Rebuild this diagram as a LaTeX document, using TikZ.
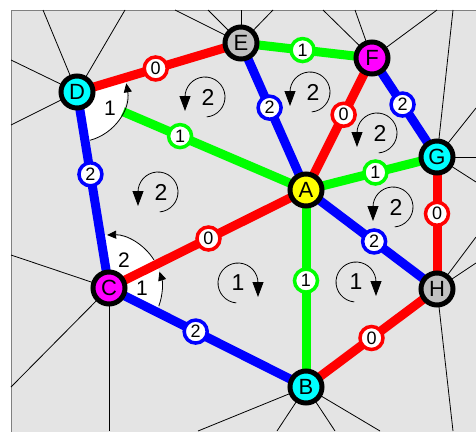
\documentclass[tikz,border=0pt]{standalone}
\usepackage{fontspec}
\setmainfont{Liberation Sans}
\usetikzlibrary{arrows.meta, backgrounds}
\definecolor{boxgray}{RGB}{228,228,228}
\definecolor{vgray}{RGB}{192,192,192}
\definecolor{vcyan}{RGB}{0,255,255}
\definecolor{vmagenta}{RGB}{255,0,255}
\definecolor{vyellow}{RGB}{255,255,0}
\definecolor{ered}{RGB}{255,0,0}
\definecolor{egreen}{RGB}{0,255,0}
\definecolor{eblue}{RGB}{0,0,255}

\tikzset{
  vtx/.style={circle, draw=black, line width=5pt, minimum size=32pt, inner sep=0pt,
    font=\fontsize{22}{22}\selectfont},
  elab/.style={circle, fill=white, draw=#1, line width=3.5pt, minimum size=23pt, inner sep=0pt,
    font=\fontsize{18}{18}\selectfont},
  link/.style={line width=9pt, draw=#1},
  cell/.style={line width=0.8pt, black},
  facenum/.style={inner sep=0pt, font=\fontsize{23}{23}\selectfont},
  anglab/.style={inner sep=0pt, font=\fontsize{21}{21}\selectfont},
  facearr/.style={line width=0.8pt, -{Triangle[length=15pt,width=11pt]}},
  angarr/.style={line width=0.8pt, -{Triangle[length=9pt,width=8pt]}},
}

\begin{document}
\begin{tikzpicture}[x=1pt, y=-1pt]
  \useasboundingbox (0,0) rectangle (476,431);
  % vertices
  \node[vtx, fill=vyellow]  (A) at (306,190) {A};
  \node[vtx, fill=vcyan]    (B) at (306,387) {B};
  \node[vtx, fill=vmagenta] (C) at (109,288) {C};
  \node[vtx, fill=vcyan]    (D) at (77,92)   {D};
  \node[vtx, fill=vgray]    (E) at (241,43)  {E};
  \node[vtx, fill=vmagenta] (F) at (372,58)  {F};
  \node[vtx, fill=vcyan]    (G) at (437,157) {G};
  \node[vtx, fill=vgray]    (H) at (437,289) {H};
  % face rotations
  \foreach \nm/\cx/\cy in {fa/205/97, fb/158/192, fc/310/92, fd/377/133, fe/393/207}{
    \node[facenum] (\nm) at (\cx+3,\cy) {2};
    \draw[facearr] (\cx,\cy) ++(85:20) arc[start angle=85, end angle=-180, radius=20] -- ++(0,14);
  }
  \foreach \nm/\cx/\cy in {fg/238/283, fh/356/282}{
    \node[facenum] (\nm) at (\cx,\cy) {1};
    \draw[facearr] (\cx,\cy) ++(95:20) arc[start angle=95, end angle=360, radius=20] -- ++(0,14);
  }
  \begin{pgfonlayer}{background}
    \filldraw[fill=boxgray, draw=gray, line width=1pt] (11,10) rectangle (478,433);
    % cell borders
    \foreach \v/\px/\py in {D/43/10, D/125/10, D/11/60, D/11/125,
        E/175/10, E/208/10, E/241/10, E/273/10, F/323/10, F/355/10, F/437/10,
        G/453/10, G/476/108, G/476/157, G/476/182, H/476/237, H/476/263, H/453/431,
        C/11/255, C/11/387, C/109/431, B/198/431, B/277/431, B/335/431, B/380/431}
      \draw[cell] (\v.center) -- (\px,\py);
    % green edges
    \draw[link=egreen] (E.center) -- node[elab=egreen, pos=.47] (eEF) {1} (F.center);
    \draw[link=egreen] (D.center) -- node[elab=egreen, pos=.45] (eDA) {1} (A.center);
    \draw[link=egreen] (A.center) -- node[elab=egreen, pos=.53] (eAG) {1} (G.center);
    \draw[link=egreen] (A.center) -- node[elab=egreen, pos=.46] (eAB) {1} (B.center);
    % angle sectors
    \fill[white] (D.center) -- ++(80.7:50) arc[start angle=80.7, end angle=-16.6, radius=50] -- cycle;
    \fill[white] (C.center) -- ++(26.7:53) arc[start angle=26.7, end angle=-99.3, radius=53] -- cycle;
    % red and blue edges
    \draw[link=ered] (D.center) -- node[elab=ered, pos=.48] (eDE) {0} (E.center);
    \draw[link=ered] (F.center) -- node[elab=ered, pos=.43] (eFA) {0} (A.center);
    \draw[link=ered] (G.center) -- node[elab=ered, pos=.43] (eGH) {0} (H.center);
    \draw[link=ered] (B.center) -- node[elab=ered, pos=.50] (eBH) {0} (H.center);
    \draw[link=ered] (C.center) -- node[elab=ered, pos=.505] (eCA) {0} (A.center);
    \draw[link=eblue] (F.center) -- node[elab=eblue, pos=.47] (eFG) {2} (G.center);
    \draw[link=eblue] (D.center) -- node[elab=eblue, pos=.42] (eDC) {2} (C.center);
    \draw[link=eblue] (E.center) -- node[elab=eblue, pos=.44] (eEA) {2} (A.center);
    \draw[link=eblue] (A.center) -- node[elab=eblue, pos=.52] (eAH) {2} (H.center);
    \draw[link=eblue] (C.center) -- node[elab=eblue, pos=.44] (eCB) {2} (B.center);
    % angle arcs
    \draw[angarr] (D.center) ++(75:50) arc[start angle=75, end angle=-10, radius=50];
    \draw[angarr] (C.center) ++(20:53) arc[start angle=20, end angle=-18, radius=53];
    \draw[angarr] (C.center) ++(-32:53) arc[start angle=-32, end angle=-92, radius=53];
    \node[anglab] (aD) at (110,108) {1};
    \node[anglab] (aC1) at (142,288) {1};
    \node[anglab] (aC2) at (124,260) {2};
  \end{pgfonlayer}
\end{tikzpicture}
\end{document}
